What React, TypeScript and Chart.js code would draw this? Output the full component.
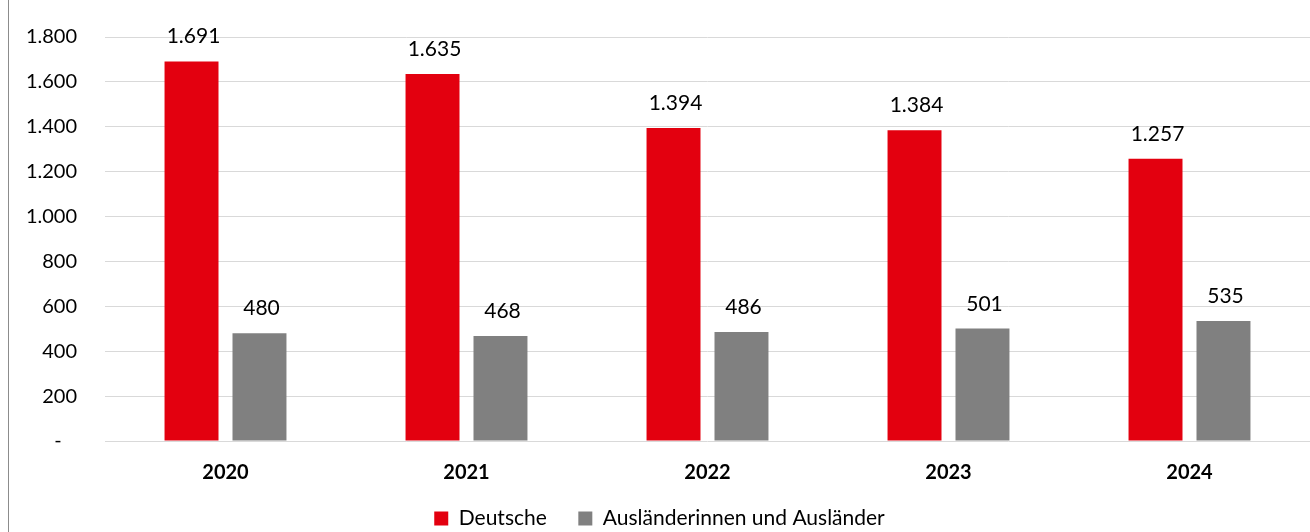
import React, { useEffect, useRef } from "react";
import { Chart, registerables } from "chart.js";

Chart.register(...registerables);

const categories = ["2020", "2021", "2022", "2023", "2024"];
const deutsche = [1691, 1635, 1394, 1384, 1257];
const auslaender = [480, 468, 486, 501, 535];
const seriesNames = ["Deutsche", "Ausländerinnen und Ausländer"];
const yTicks = [0, 200, 400, 600, 800, 1000, 1200, 1400, 1600, 1800];

const FONT = "Lato, 'Open Sans', sans-serif";

function fmt(v: number): string {
  const s = Math.round(v).toString();
  return s.replace(/\B(?=(\d{3})+(?!\d))/g, ".");
}

const dataLabelPlugin = {
  id: "dataLabels",
  afterDatasetsDraw(chart: any) {
    const ctx = chart.ctx;
    ctx.save();
    ctx.font = `21px ${FONT}`;
    ctx.fillStyle = "#000";
    ctx.textAlign = "center";
    ctx.textBaseline = "alphabetic";
    chart.data.datasets.forEach((ds: any, di: number) => {
      const meta = chart.getDatasetMeta(di);
      meta.data.forEach((el: any, i: number) => {
        ctx.fillText(fmt(ds.data[i]), el.x + 2, el.y - 18);
      });
    });
    ctx.restore();
  },
};

export default function App() {
  const ref = useRef<HTMLCanvasElement | null>(null);
  useEffect(() => {
    if (!ref.current) return;
    const chart = new Chart(ref.current, {
      type: "bar",
      data: {
        labels: categories,
        datasets: [
          {
            label: seriesNames[0],
            data: deutsche,
            backgroundColor: "#E3000F",
            barPercentage: 0.794,
            categoryPercentage: 0.564,
          },
          {
            label: seriesNames[1],
            data: auslaender,
            backgroundColor: "#808080",
            barPercentage: 0.794,
            categoryPercentage: 0.564,
          },
        ],
      },
      options: {
        responsive: false,
        animation: false,
        devicePixelRatio: 1,
        layout: { padding: { top: 37, left: 0, right: 0, bottom: -7 } },
        scales: {
          x: {
            grid: { display: false, drawTicks: false },
            border: { display: false },
            ticks: {
              color: "#000",
              font: { family: FONT, size: 20, weight: "bold" },
              padding: 20,
            },
            afterFit: (s: any) => {
              s.height = 57;
            },
          },
          y: {
            min: 0,
            max: 1800,
            afterBuildTicks: (s: any) => {
              s.ticks = yTicks.map((v) => ({ value: v }));
            },
            grid: { color: "#D9D9D9", lineWidth: 1, drawTicks: false },
            border: { display: false },
            ticks: {
              color: "#000",
              font: { family: FONT, size: 20 },
              padding: 28,
              callback: (v: any) => (Number(v) === 0 ? "-   " : fmt(Number(v))),
            },
            afterFit: (s: any) => {
              s.width = 96;
              s.paddingTop = 0;
              s.paddingBottom = 0;
            },
          },
        },
        plugins: {
          legend: {
            position: "bottom",
            labels: {
              color: "#000",
              font: { family: FONT, size: 21 },
              boxWidth: 14,
              boxHeight: 14,
              padding: 10,
              generateLabels: (chart: any) =>
                chart.data.datasets.map((ds: any, i: number) => ({
                  text: i === 0 ? ds.label + "    " : ds.label,
                  fillStyle: ds.backgroundColor,
                  strokeStyle: ds.backgroundColor,
                  lineWidth: 0,
                  hidden: false,
                  datasetIndex: i,
                })),
            },
          },
          tooltip: { enabled: false },
        },
      },
      plugins: [dataLabelPlugin],
    } as any);
    return () => chart.destroy();
  }, []);

  return (
    <div
      style={{
        position: "absolute",
        left: 8,
        top: 0,
        width: 1302,
        height: 532,
        borderLeft: "1px solid #8C8C8C",
        overflow: "hidden",
        background: "#fff",
      }}
    >
      <canvas ref={ref} width={1301} height={532} style={{ display: "block" }} />
    </div>
  );
}
